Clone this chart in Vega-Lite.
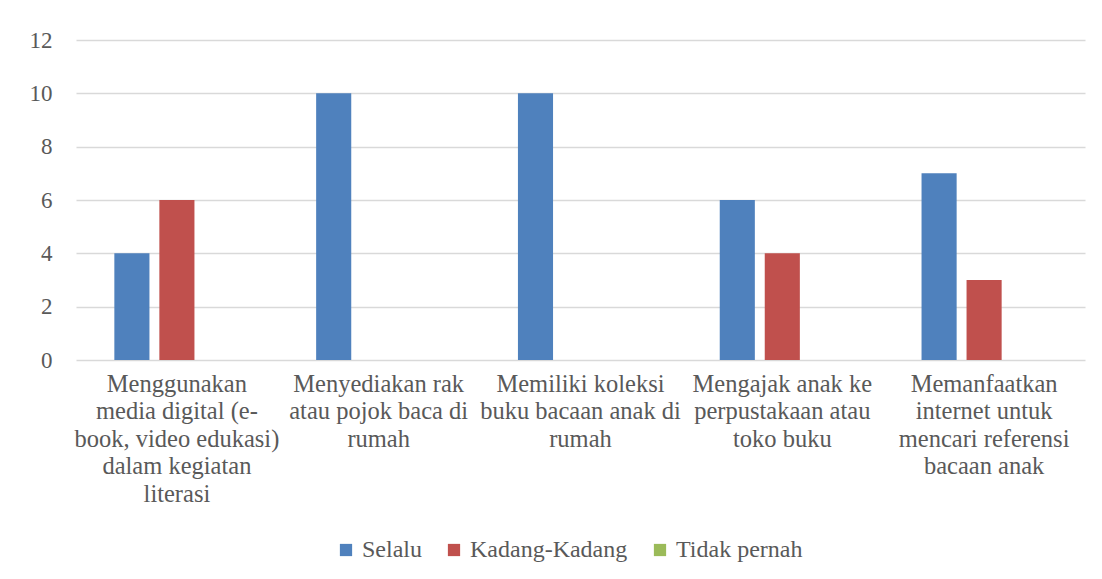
{
  "$schema": "https://vega.github.io/schema/vega-lite/v6.json",
  "width": 1009,
  "height": 320,
  "autosize": {"type": "none"},
  "padding": {"left": 76, "top": 40, "right": 17, "bottom": 219},
  "background": "white",
  "config": {
    "font": "Liberation Serif",
    "view": {"stroke": null}
  },
  "data": {
    "values": [
      {"kategori": "Menggunakan|media digital (e-|book, video edukasi)|dalam kegiatan|literasi", "seri": "Selalu", "jumlah": 4},
      {"kategori": "Menggunakan|media digital (e-|book, video edukasi)|dalam kegiatan|literasi", "seri": "Kadang-Kadang", "jumlah": 6},
      {"kategori": "Menggunakan|media digital (e-|book, video edukasi)|dalam kegiatan|literasi", "seri": "Tidak pernah", "jumlah": 0},
      {"kategori": "Menyediakan rak|atau pojok baca di|rumah", "seri": "Selalu", "jumlah": 10},
      {"kategori": "Menyediakan rak|atau pojok baca di|rumah", "seri": "Kadang-Kadang", "jumlah": 0},
      {"kategori": "Menyediakan rak|atau pojok baca di|rumah", "seri": "Tidak pernah", "jumlah": 0},
      {"kategori": "Memiliki koleksi|buku bacaan anak di|rumah", "seri": "Selalu", "jumlah": 10},
      {"kategori": "Memiliki koleksi|buku bacaan anak di|rumah", "seri": "Kadang-Kadang", "jumlah": 0},
      {"kategori": "Memiliki koleksi|buku bacaan anak di|rumah", "seri": "Tidak pernah", "jumlah": 0},
      {"kategori": "Mengajak anak ke|perpustakaan atau|toko buku", "seri": "Selalu", "jumlah": 6},
      {"kategori": "Mengajak anak ke|perpustakaan atau|toko buku", "seri": "Kadang-Kadang", "jumlah": 4},
      {"kategori": "Mengajak anak ke|perpustakaan atau|toko buku", "seri": "Tidak pernah", "jumlah": 0},
      {"kategori": "Memanfaatkan|internet untuk|mencari referensi|bacaan anak", "seri": "Selalu", "jumlah": 7},
      {"kategori": "Memanfaatkan|internet untuk|mencari referensi|bacaan anak", "seri": "Kadang-Kadang", "jumlah": 3},
      {"kategori": "Memanfaatkan|internet untuk|mencari referensi|bacaan anak", "seri": "Tidak pernah", "jumlah": 0}
    ]
  },
  "mark": {"type": "bar"},
  "encoding": {
    "x": {
      "field": "kategori",
      "type": "nominal",
      "sort": null,
      "scale": {"paddingInner": 0.38, "paddingOuter": 0.19},
      "axis": {
        "title": null,
        "labelAngle": 0,
        "labelExpr": "split(datum.label, '|')",
        "labelFont": "Liberation Serif",
        "labelFontSize": 24.5,
        "labelColor": "#595959",
        "labelLineHeight": 27.5,
        "labelPadding": 12,
        "labelBaseline": "top",
        "labelLimit": 0,
        "ticks": false,
        "domain": false,
        "grid": false
      }
    },
    "xOffset": {
      "field": "seri",
      "type": "nominal",
      "sort": ["Selalu", "Kadang-Kadang", "Tidak pernah"],
      "scale": {"paddingInner": 0.22, "paddingOuter": 0}
    },
    "y": {
      "field": "jumlah",
      "type": "quantitative",
      "scale": {"domain": [0, 12]},
      "axis": {
        "title": null,
        "values": [0, 2, 4, 6, 8, 10, 12],
        "labelFont": "Liberation Serif",
        "labelFontSize": 23,
        "labelColor": "#595959",
        "labelPadding": 24,
        "ticks": false,
        "domain": false,
        "gridColor": "#D9D9D9",
        "gridWidth": 1.3
      }
    },
    "color": {
      "field": "seri",
      "type": "nominal",
      "sort": ["Selalu", "Kadang-Kadang", "Tidak pernah"],
      "scale": {"domain": ["Selalu", "Kadang-Kadang", "Tidak pernah"], "range": ["#4F81BD", "#C0504D", "#9BBB59"]},
      "legend": {
        "title": null,
        "orient": "none",
        "direction": "horizontal",
        "legendX": 258,
        "legendY": 498,
        "symbolType": "square",
        "symbolSize": 150,
        "symbolStrokeWidth": 0,
        "labelFont": "Liberation Serif",
        "labelFontSize": 24,
        "labelColor": "#595959",
        "labelOffset": 4,
        "columnPadding": 20
      }
    }
  }
}
